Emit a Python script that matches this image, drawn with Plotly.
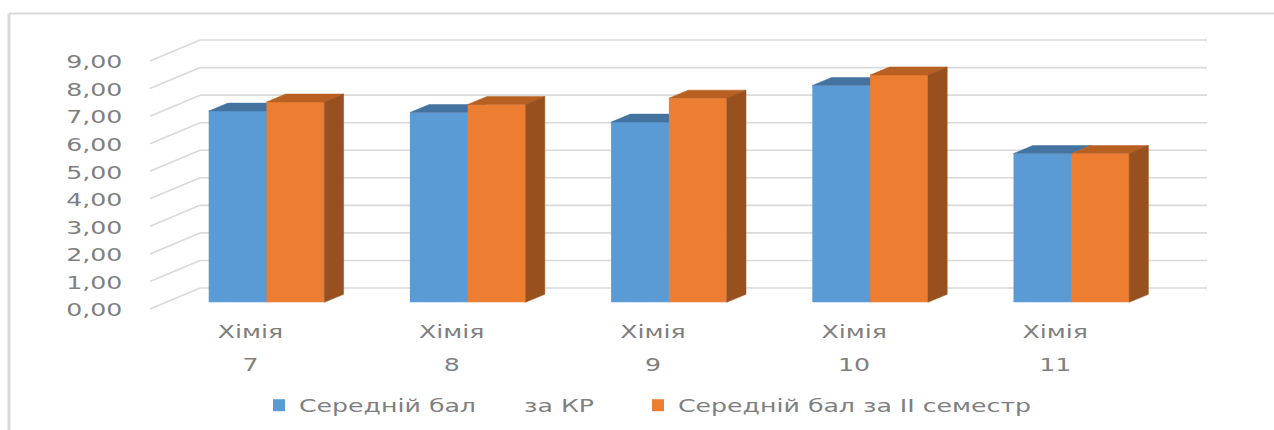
import plotly.graph_objects as go

# ---- data ----
subjects = ["Хімія", "Хімія", "Хімія", "Хімія", "Хімія"]
grades = ["7", "8", "9", "10", "11"]
series_names = ["Середній бал\u00a0\u00a0\u00a0\u00a0\u00a0\u00a0за КР", "Середній бал за II семестр"]
control_avg = [6.94, 6.89, 6.54, 7.87, 5.40]
semester_avg = [7.27, 7.18, 7.41, 8.25, 5.40]
tick_values = [0, 1, 2, 3, 4, 5, 6, 7, 8, 9]
tick_labels = ["0,00", "1,00", "2,00", "3,00", "4,00", "5,00", "6,00", "7,00", "8,00", "9,00"]

# ---- page geometry (px) ----
W, H = 1274, 430
L, R, T, B = 128, 1232, 30, 430   # plot area reaches the page bottom so the legend stays inside it
AXIS_PX = 313                     # pixel row the category labels hang from
Y0, PY = 302.3, 27.55             # pixel of value 0 on the bar front plane, px per unit
X0, PX = 266.5, 201.2             # pixel of the first group's centre, px per category
BAR_PX = 57.8
DX, DY = 19.3, 8.0                # bar depth


def ux(dx):
    return dx / PX


def uy(dy):
    return dy / PY


x_range = [(L - X0) / PX, (R - X0) / PX]
y_range = [(Y0 - B) / PY, (Y0 - T) / PY]
bw, dx, dy = ux(BAR_PX), ux(DX), uy(DY)
idx = list(range(len(grades)))
wall_left, wall_right = (200 - X0) / PX, (1207 - X0) / PX
diag_left = (150 - X0) / PX
wall_up = (Y0 - 288) / PY    # wall floor raised above the front plane
diag_down = (Y0 - 309) / PY
axis_pos = (B - AXIS_PX) / (B - T)

GRID = "#D9D9D9"
TEXT = "#7F7F7F"
BLUE, BLUE_TOP = "#5B9BD5", "#44739F"
ORANGE, ORANGE_TOP, ORANGE_SIDE = "#ED7D31", "#B85F22", "#98501E"
HIDE = "rgba(0,0,0,0)"
FONT = "DejaVu Sans"

shapes = []
for v in tick_values:
    shapes.append(dict(type="line", xref="x", yref="y", layer="below",
                       x0=wall_left, x1=wall_right, y0=v + wall_up, y1=v + wall_up,
                       line=dict(color=GRID, width=1.6)))
    shapes.append(dict(type="line", xref="x", yref="y", layer="below",
                       x0=diag_left, x1=wall_left, y0=v + diag_down, y1=v + wall_up,
                       line=dict(color=GRID, width=1.6)))


def poly(xs, ys, color, xa, ya):
    return go.Scatter(x=xs, y=ys, mode="lines", fill="toself", fillcolor=color,
                      line=dict(color=color, width=0.5), showlegend=False,
                      hoverinfo="skip", xaxis=xa, yaxis=ya)


def top_xy(left, right, v):
    return [left, right, right + dx, left + dx, left], [v, v, v + dy, v + dy, v]


fig = go.Figure()
# the blue face runs 1px under the orange one so no seam shows between them
fig.add_trace(go.Bar(x=idx, y=control_avg, width=bw + ux(1), offset=-bw, name=series_names[0],
                     marker=dict(color=BLUE, line=dict(width=0)), xaxis="x", yaxis="y"))
for i, v in zip(idx, control_avg):
    xs, ys = top_xy(i - bw, i, v)
    fig.add_trace(poly(xs, ys, BLUE_TOP, "x", "y"))

fig.add_trace(go.Bar(x=idx, y=semester_avg, width=bw, offset=0, name=series_names[1],
                     marker=dict(color=ORANGE, line=dict(width=0)), xaxis="x2", yaxis="y2"))
for i, v in zip(idx, semester_avg):
    xs, ys = top_xy(i, i + bw, v)
    fig.add_trace(poly(xs, ys, ORANGE_TOP, "x2", "y2"))
    right = i + bw
    fig.add_trace(poly([right, right + dx, right + dx, right, right],
                       [v, v + dy, dy, 0, v], ORANGE_SIDE, "x2", "y2"))

label_shift = ux(-16)
tickpos = [i + label_shift for i in idx]
label_font = dict(family=FONT, size=18, color=TEXT)

fig.update_layout(
    width=W, height=H, autosize=False,
    margin=dict(l=L, r=W - R, t=T, b=H - B, pad=0),
    paper_bgcolor="white", plot_bgcolor="rgba(0,0,0,0)",
    barmode="overlay", showlegend=True, shapes=shapes,
    legend=dict(orientation="h", x=(259 - L) / (R - L), xanchor="left",
                y=(B - 387) / (B - T), yanchor="top", bgcolor=HIDE,
                font=dict(family=FONT, size=18, color=TEXT),
                entrywidth=334, entrywidthmode="pixels", traceorder="normal"),
    xaxis=dict(range=x_range, showgrid=False, zeroline=False, showline=False,
               anchor="free", position=axis_pos,
               tickmode="array", tickvals=tickpos, ticktext=subjects,
               ticks="outside", ticklen=2, tickcolor=HIDE, tickfont=label_font),
    xaxis2=dict(range=x_range, overlaying="x", anchor="free", position=axis_pos,
                showgrid=False, zeroline=False,
                showline=False, tickmode="array", tickvals=tickpos, ticktext=grades,
                ticks="outside", ticklen=35, tickcolor=HIDE, tickfont=label_font),
    yaxis=dict(range=y_range, showgrid=False, zeroline=False, showline=False,
               tickmode="array", tickvals=[v + uy(-7.7) for v in tick_values],
               ticktext=tick_labels, ticks="outside", ticklen=1, tickcolor=HIDE,
               tickfont=dict(family=FONT, size=18, color=TEXT)),
    yaxis2=dict(range=y_range, overlaying="y", anchor="x", showgrid=False, zeroline=False,
                showline=False, showticklabels=False),
)

# outer frame: left and top edges of the picture
frame_x = (9 - L) / (R - L)
frame_y = (B - 13.5) / (B - T)
fig.add_shape(type="line", xref="paper", yref="paper", x0=frame_x, x1=frame_x,
              y0=0, y1=frame_y, line=dict(color=GRID, width=3), layer="below")
fig.add_shape(type="line", xref="paper", yref="paper", x0=frame_x, x1=(W - L) / (R - L),
              y0=frame_y, y1=frame_y, line=dict(color=GRID, width=2), layer="below")

# the reference's text is stretched sideways: widen each label, keeping it real text
STRETCH_JS = """
document.body.style.margin = '0';
var gd = document.getElementById('{plot_id}');
function stretch() {
  gd.querySelectorAll('.xtick text, .x2tick text, .ytick text, .legendtext').forEach(function (t) {
    var w = t.getComputedTextLength();
    t.setAttribute('textLength', w * 1.4);
    t.setAttribute('lengthAdjust', 'spacingAndGlyphs');
  });
  var box = gd.querySelector('.legend .scrollbox');
  if (box) { box.removeAttribute('clip-path'); }
}
stretch();
"""
fig.write_html("out.html", post_script=STRETCH_JS, config=dict(displayModeBar=False))
